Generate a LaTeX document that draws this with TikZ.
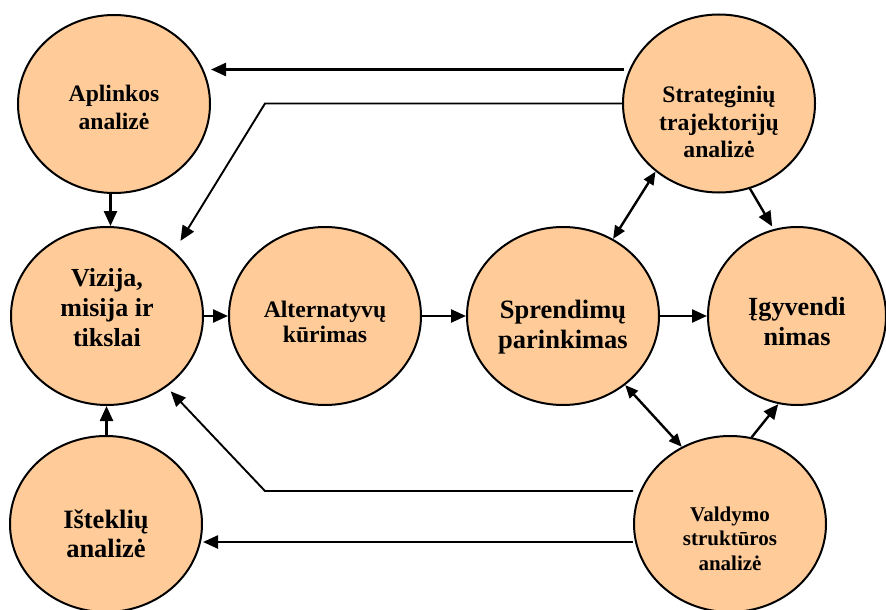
\documentclass[tikz,border=0pt]{standalone}
\usepackage{fontspec}
\setmainfont{Liberation Serif}
\usetikzlibrary{shapes.geometric,arrows.meta,calc}
\definecolor{peach}{HTML}{FFCC99}
\tikzset{
  bub/.style={ellipse, draw=black, line width=2pt, fill=peach, inner sep=0pt,
              minimum width=192pt, minimum height=178pt},
  captxt/.style={align=center, inner sep=0pt, text=black},
  arr/.style={line width=2.4pt, -{Triangle[length=15pt,width=13pt]}},
  thinarr/.style={line width=1.9pt, -{Triangle[length=15pt,width=13pt]}},
  dbl/.style={line width=2.4pt, {Triangle[length=13pt,width=11pt]}-{Triangle[length=13pt,width=11pt]}}
}
\begin{document}
\begin{tikzpicture}[x=1pt,y=-1pt]
\clip (0,0) rectangle (886,610);

% circles
\node[bub] (A)  at (114,104) {};
\node[bub] (S)  at (719,103.5) {};
\node[bub] (V)  at (107,316) {};
\node[bub] (Al) at (325,316) {};
\node[bub] (Sp) at (563,316) {};
\node[bub, minimum width=178pt] (I) at (797,316) {};
\node[bub, minimum height=176pt] (Is) at (106,524) {};
\node[bub, minimum height=176pt] (Va) at (730,524) {};

% captions
\node[captxt, font=\bfseries\fontsize{23.6}{27.6}\selectfont] (tA) at ($(A)+(0,3.5)$) {Aplinkos\\analizė};
\node[captxt, font=\bfseries\fontsize{23.7}{27.5}\selectfont] (tS) at ($(S)+(0,18.5)$) {Strateginių\\trajektorijų\\analizė};
\node[captxt, font=\bfseries\fontsize{26}{30.3}\selectfont] (tV) at ($(V)+(0,-8.3)$) {Vizija,\\misija ir\\tikslai};
\node[captxt, font=\bfseries\fontsize{23.7}{25.7}\selectfont] (tAl) at ($(Al)+(0,6)$) {Alternatyvų\\kūrimas};
\node[captxt, font=\bfseries\fontsize{26.5}{30}\selectfont] (tSp) at ($(Sp)+(0,10.9)$) {Sprendimų\\parinkimas};
\node[captxt, font=\bfseries\fontsize{26.2}{30}\selectfont] (tI) at ($(I)+(0,6)$) {Įgyvendi\\nimas};
\node[captxt, font=\bfseries\fontsize{26.5}{29}\selectfont] (tIs) at ($(Is)+(0,9.7)$) {Išteklių\\analizė};
\node[captxt, font=\bfseries\fontsize{21}{24.7}\selectfont] (tVa) at ($(Va)+(0,14.7)$) {Valdymo\\struktūros\\analizė};

% start and bend points of the long lines
\coordinate (s1) at ($(S.west)+(2,-34)$);
\coordinate (s2) at ($(Va.west)+(0,-33)$);
\coordinate (s3) at ($(Va.west)+(0,18)$);
\coordinate (b1) at (265,103.5);
\coordinate (b2) at (265,491);
\coordinate (m1) at ($(A.south)!.5!(V.north)$);
\coordinate (m2) at ($(Is.north)!.5!(V.south)$);

% connectors
\draw[arr] (s1) -- (s1 -| A.east);
\draw[thinarr, shorten >=12pt] (S.west) -- (b1) -- (V.44);
\draw[arr] (m1 |- A.south) -- (m1 |- V.north);
\draw[arr] (m2 |- Is.north) -- (m2 |- V.south);
\draw[arr] (V.east) -- (Al.west);
\draw[arr] (Al.east) -- (Sp.west);
\draw[arr] (Sp.east) -- (I.west);
\draw[dbl] (Sp.57) -- (S.227);
\draw[arr, shorten >=3pt] (S.290) -- (I.105);
\draw[dbl] (Sp.312) -- (Va.122);
\draw[arr] (Va.76) -- (I.258);
\draw[thinarr, shorten >=6pt] (s2) -- (b2) -- (V.310);
\draw[arr] (s3) -- (s3 -| Is.east);
\end{tikzpicture}
\end{document}
